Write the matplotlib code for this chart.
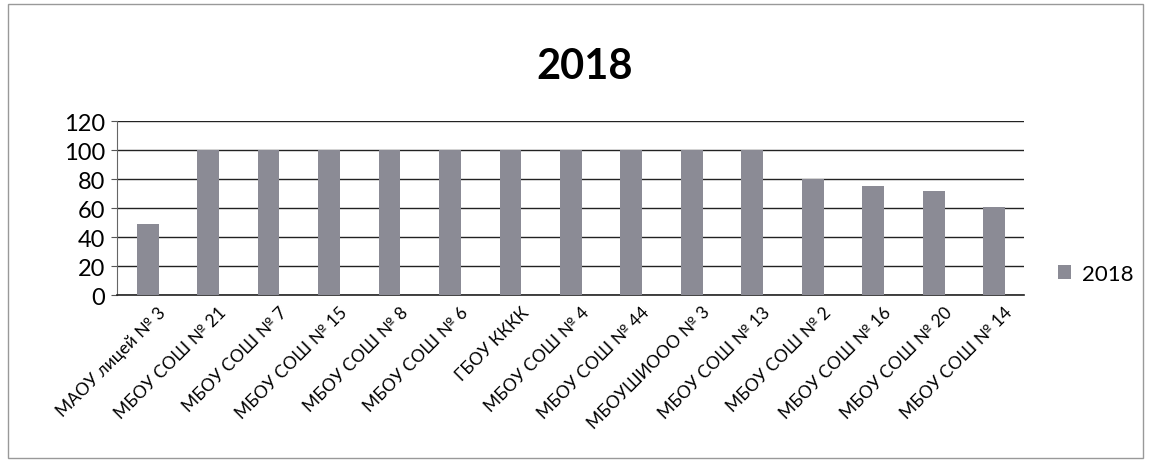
import numpy as np
import matplotlib.pyplot as plt
from matplotlib.patches import Rectangle
import matplotlib.transforms as mtrans

# school names and values for 2018
schools = ["МАОУ лицей № 3", "МБОУ СОШ № 21", "МБОУ СОШ № 7", "МБОУ СОШ № 15",
           "МБОУ СОШ № 8", "МБОУ СОШ № 6", "ГБОУ КККК", "МБОУ СОШ № 4",
           "МБОУ СОШ № 44", "МБОУШИООО № 3", "МБОУ СОШ № 13", "МБОУ СОШ № 2",
           "МБОУ СОШ № 16", "МБОУ СОШ № 20", "МБОУ СОШ № 14"]
values = [49, 100, 100, 100, 100, 100, 100, 100, 100, 100, 100, 80, 75, 72, 61]
yticks = [0, 20, 40, 60, 80, 100, 120]
series_name = "2018"

plt.rcParams['font.family'] = ['Lato', 'DejaVu Sans']

fig = plt.figure(figsize=(11.51, 4.64), dpi=100)
ax = fig.add_axes([0.102, 0.362, 0.788, 0.375])

x = np.arange(len(schools))
ax.bar(x, values, width=0.36, color="#8b8b95", label=series_name, zorder=3)

ax.set_xlim(-0.5, len(schools) - 0.5)
ax.set_ylim(0, 120)
ax.set_yticks(yticks)
ax.tick_params(axis='y', labelsize=17, length=4, color="#555555", pad=5)
ax.yaxis.grid(True, color="#222222", linewidth=1.0, zorder=0)
ax.set_xticks(x)
ax.set_xticklabels(schools, rotation=45, ha='right', rotation_mode='anchor', fontsize=12.5)
ax.tick_params(axis='x', length=0, pad=6)
# shift the slanted labels a bit to the right, as in the original
offset = mtrans.ScaledTranslation(10 / 100, 0, fig.dpi_scale_trans)
for lbl in ax.get_xticklabels():
    lbl.set_transform(lbl.get_transform() + offset)

for s in ['top', 'right']:
    ax.spines[s].set_visible(False)
ax.spines['left'].set_color("#666666")
ax.spines['bottom'].set_color("#222222")
ax.spines['bottom'].set_linewidth(1.2)

fig.text(0.508, 0.855, "2018", ha='center', va='center', fontsize=30, fontweight='bold')

ax.legend(loc='center left', bbox_to_anchor=(1.015, 0.12), frameon=False,
          fontsize=16, handlelength=0.6, handleheight=0.6, handletextpad=0.5)

fig.patches.append(Rectangle((0.007, 0.01), 0.986, 0.98, transform=fig.transFigure,
                             fill=False, edgecolor="#999999", linewidth=1.0))

fig.savefig("out.png", dpi=100)
